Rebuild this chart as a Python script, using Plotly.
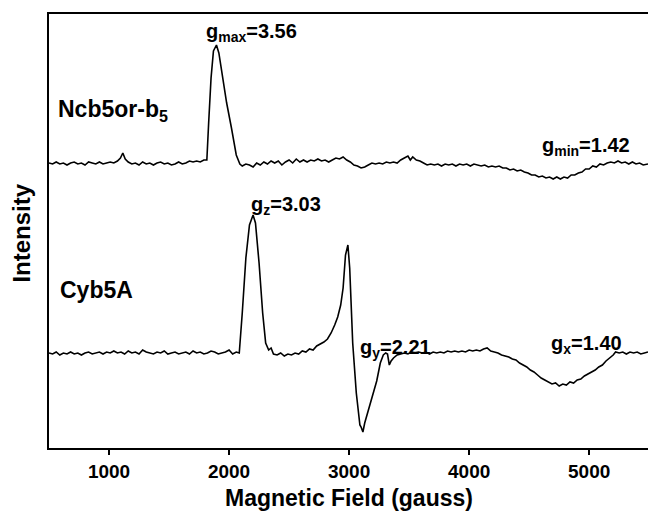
import plotly.graph_objects as go

# ---- data: (magnetic field in gauss, intensity relative to the trace's baseline) ----
ncb5or_points = [
    (500, 0), (530, -1), (560, 1), (590, -1), (620, 0), (650, -2), (680, 0), (710, 1), (740, -1),
    (770, 0), (800, -2), (830, 1), (860, 0), (890, -1), (920, 1), (950, -1), (980, 0), (1010, 1),
    (1040, 0), (1070, 2), (1095, 5), (1115, 10), (1135, 4), (1160, 1), (1190, -1), (1220, 0),
    (1250, -2), (1280, 1), (1310, -1), (1340, 0), (1370, -2), (1400, 0), (1430, 1), (1460, -1),
    (1490, 0), (1520, -2), (1550, -1), (1580, 1), (1610, -1), (1640, 0), (1670, 2), (1700, 1),
    (1730, 2), (1760, 1), (1790, 3), (1815, 3), (1830, 40), (1850, 85), (1870, 112), (1895, 118),
    (1915, 110), (1940, 90), (1980, 60), (2020, 35), (2060, 8), (2090, -1), (2110, -3), (2140, -1),
    (2170, -2), (2200, -4), (2230, 0), (2260, -2), (2290, 1), (2320, -1), (2350, 2), (2380, 0),
    (2410, 2), (2440, -2), (2470, 1), (2500, 3), (2530, 0), (2560, 4), (2590, 1), (2620, 3),
    (2650, 1), (2680, 3), (2710, 2), (2740, 4), (2770, 2), (2800, 3), (2830, 1), (2860, 3),
    (2890, 5), (2920, 4), (2950, 6), (2980, 3), (3010, 1), (3040, -2), (3070, -3), (3100, -5),
    (3130, -4), (3160, -2), (3190, 0), (3220, -1), (3250, 0), (3280, -1), (3310, 1), (3340, 0),
    (3370, 1), (3400, 0), (3430, 3), (3460, 5), (3490, 7), (3510, 3), (3530, 6), (3560, 3),
    (3590, 2), (3620, 0), (3650, -2), (3680, -1), (3710, -2), (3740, -1), (3770, -3), (3800, -1),
    (3830, -2), (3860, -1), (3890, -3), (3920, -1), (3950, -2), (3980, -1), (4010, -3), (4040, -1),
    (4070, -2), (4100, -3), (4130, -2), (4160, -4), (4190, -3), (4220, -4), (4250, -3), (4280, -5),
    (4310, -5), (4340, -7), (4370, -6), (4400, -8), (4430, -7), (4460, -9), (4490, -10), (4520, -12),
    (4550, -12), (4580, -14), (4610, -13), (4640, -15), (4670, -14), (4700, -16), (4730, -14),
    (4760, -16), (4790, -14), (4820, -15), (4850, -12), (4880, -12), (4910, -10), (4940, -9),
    (4970, -6), (5000, -6), (5030, -3), (5060, -4), (5090, -1), (5120, -2), (5150, 0), (5180, 1),
    (5210, 0), (5240, 2), (5270, 0), (5300, 1), (5330, -1), (5360, 1), (5390, -1), (5420, 0),
    (5450, -2), (5490, -1),
]

cyb5a_points = [
    (500, 0), (530, -1), (560, 1), (590, -2), (620, 0), (650, -1), (680, 1), (710, -1), (740, 0),
    (770, -2), (800, 0), (830, 1), (860, -1), (890, 0), (920, 1), (950, -1), (980, 1), (1010, 0),
    (1040, 2), (1070, 0), (1100, 1), (1130, -1), (1160, 2), (1190, 0), (1220, 1), (1250, -1),
    (1280, 3), (1310, 1), (1340, 0), (1370, -1), (1400, 1), (1430, 0), (1460, 2), (1490, -1),
    (1520, 0), (1550, 1), (1580, -1), (1610, 0), (1640, 1), (1670, -1), (1700, 2), (1730, 0),
    (1760, 1), (1790, -1), (1820, 0), (1850, 2), (1880, 1), (1910, -1), (1940, 0), (1970, 1),
    (2000, 3), (2030, -1), (2060, 1), (2085, 0), (2110, 40), (2140, 95), (2170, 128), (2200, 138),
    (2220, 130), (2250, 90), (2280, 40), (2305, 10), (2330, 3), (2350, 5), (2370, -1), (2400, -2),
    (2430, 0), (2460, -3), (2490, -1), (2520, -2), (2550, 0), (2580, -1), (2610, 2), (2640, 1),
    (2670, 4), (2700, 3), (2730, 7), (2760, 9), (2790, 11), (2820, 14), (2850, 20), (2880, 28),
    (2905, 36), (2930, 48), (2950, 65), (2970, 98), (2990, 108), (3005, 85), (3030, 10),
    (3060, -40), (3090, -72), (3100, -74), (3115, -79), (3130, -70), (3150, -62), (3175, -52),
    (3200, -42), (3230, -28), (3260, -10), (3285, -2), (3305, 0), (3320, -1), (3335, -12),
    (3350, -8), (3370, -5), (3400, -2), (3430, -1), (3460, 0), (3490, -1), (3520, 1), (3550, 0),
    (3580, 1), (3610, 0), (3640, 1), (3670, -1), (3700, 1), (3730, 0), (3760, 1), (3790, 0),
    (3820, 2), (3850, 1), (3880, 2), (3910, 1), (3940, 2), (3970, 1), (4000, 3), (4030, 2),
    (4060, 3), (4090, 2), (4120, 4), (4150, 5), (4180, 2), (4210, 1), (4240, 0), (4270, -2),
    (4300, -3), (4330, -4), (4360, -6), (4390, -7), (4420, -10), (4450, -12), (4480, -14),
    (4510, -17), (4540, -19), (4570, -22), (4600, -25), (4630, -27), (4660, -29), (4690, -31),
    (4720, -30), (4750, -33), (4780, -31), (4810, -32), (4840, -29), (4870, -30), (4900, -27),
    (4930, -26), (4960, -23), (4990, -21), (5020, -19), (5050, -17), (5080, -14), (5110, -12),
    (5140, -8), (5170, -5), (5200, -2), (5220, 1), (5250, 0), (5280, 1), (5310, -1), (5340, 1),
    (5370, 0), (5400, 1), (5430, -1), (5460, 0), (5490, 1),
]

trace_names = ["Ncb5or-b<sub>5</sub>", "Cyb5A"]
g_labels = ["g<sub>max</sub>=3.56", "g<sub>min</sub>=1.42",
            "g<sub>z</sub>=3.03", "g<sub>y</sub>=2.21", "g<sub>x</sub>=1.40"]
x_ticks = [1000, 2000, 3000, 4000, 5000]

ncb_offset = 285
cyb_offset = 95

FONT = "Liberation Sans, Arial, sans-serif"

fig = go.Figure()
for pts, off in [(ncb5or_points, ncb_offset), (cyb5a_points, cyb_offset)]:
    fig.add_trace(go.Scatter(x=[p[0] for p in pts], y=[p[1] + off for p in pts], mode="lines",
                             line=dict(color="black", width=1.6), showlegend=False))


def ann(text, x, y, size=20):
    fig.add_annotation(text=text, x=x, y=y, xref="x", yref="y", showarrow=False,
                       xanchor="left", yanchor="middle",
                       font=dict(family=FONT, size=size, color="black", weight="bold"))


ann(trace_names[0], 555, 338, size=23)
ann(trace_names[1], 572, 158, size=23)
ann(g_labels[0], 1795, 416)
ann(g_labels[1], 4590, 302)
ann(g_labels[2], 2170, 243)
ann(g_labels[3], 3072, 100)
ann(g_labels[4], 4665, 104)

fig.add_annotation(text="Intensity", x=-0.046, y=0.495, xref="paper", yref="paper",
                   showarrow=False, textangle=-90, xanchor="center", yanchor="middle",
                   font=dict(family=FONT, size=24, color="black", weight="bold"))
fig.add_annotation(text="Magnetic Field (gauss)", x=(349 - 49) / 599, y=-0.115,
                   xref="paper", yref="paper", showarrow=False, xanchor="center",
                   yanchor="middle",
                   font=dict(family=FONT, size=23, color="black", weight="bold"))

fig.update_layout(
    width=648, height=513,
    margin=dict(l=49, r=0, t=14, b=65),
    paper_bgcolor="white", plot_bgcolor="white",
    xaxis=dict(range=[500, 5490], tickvals=x_ticks, ticktext=[str(t) for t in x_ticks],
               ticks="outside", ticklen=5, tickwidth=1.5, tickcolor="black",
               showline=True, linecolor="black", linewidth=2, mirror=True,
               showgrid=False, zeroline=False,
               tickfont=dict(family=FONT, size=19, color="black", weight="bold")),
    yaxis=dict(range=[0, 434], showticklabels=False, ticks="", showline=True,
               linecolor="black", linewidth=2, showgrid=False, zeroline=False),
)

fig.write_html("out.html", config={"displayModeBar": False},
               post_script="document.body.style.margin='0';document.body.style.overflow='hidden';")
